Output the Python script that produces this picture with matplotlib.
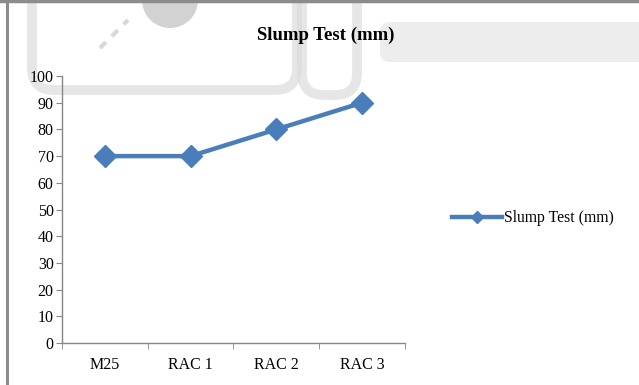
import matplotlib
matplotlib.use("Agg")
import matplotlib.pyplot as plt
from matplotlib.patches import FancyBboxPatch
from matplotlib.lines import Line2D
import numpy as np

categories = ["M25", "RAC 1", "RAC 2", "RAC 3"]
slump_mm = [70, 70, 80, 90]
y_ticks = list(range(0, 101, 10))

LINE_BLUE = "#4A7EBB"
AXIS_GREY = "#868686"

plt.rcParams["font.family"] = ["Liberation Serif", "DejaVu Serif"]

fig = plt.figure(figsize=(6.39, 3.85), dpi=100)
fig.patch.set_facecolor("white")

# faint background shapes behind the chart
bg = fig.add_axes([0, 0, 1, 1], zorder=0)
bg.set_xlim(0, 639)
bg.set_ylim(385, 0)
bg.axis("off")
for (x0, y0, w, h) in [(32, -60, 265, 150), (302, -60, 55, 155)]:
    bg.add_patch(FancyBboxPatch((x0, y0), w, h,
                                boxstyle="round,pad=0,rounding_size=22",
                                fill=False, ec="#dcdcdc", lw=7, alpha=0.7))
bg.add_patch(FancyBboxPatch((380, 22), 300, 40,
                            boxstyle="round,pad=0,rounding_size=10",
                            fc="#e6e6e6", ec="none", alpha=0.7))
bg.add_patch(plt.Circle((170, 0), 28, fc="#d2d2d2", ec="none"))
bg.plot([100, 128], [48, 20], color="#d8d8d8", lw=3, ls=(0, (2, 2)))
# frame edges on the left and top
bg.plot([7, 7], [0, 385], color="#8c8c8c", lw=2.2)
bg.plot([0, 639], [1, 1], color="#8c8c8c", lw=2.5)

ax = fig.add_axes([62 / 639, 1 - 343 / 385, (405 - 62) / 639, (343 - 76) / 385],
                  zorder=1)
ax.patch.set_alpha(0)

x = np.arange(len(categories))
ax.plot(x, slump_mm, color=LINE_BLUE, lw=3.2, marker="D", markersize=11,
        markerfacecolor=LINE_BLUE, markeredgecolor=LINE_BLUE,
        label="Slump Test (mm)", clip_on=False)

ax.set_xlim(-0.5, len(categories) - 0.5)
ax.set_ylim(0, 100)
ax.set_yticks(y_ticks)
ax.set_xticks(x)
ax.set_xticklabels(categories)
ax.set_xticks(np.arange(-0.5, len(categories), 1), minor=True)

for side in ("top", "right"):
    ax.spines[side].set_visible(False)
for side in ("left", "bottom"):
    ax.spines[side].set_color(AXIS_GREY)
    ax.spines[side].set_linewidth(1)

ax.tick_params(axis="y", direction="out", length=4, color=AXIS_GREY,
               labelsize=11.5, pad=2)
ax.tick_params(axis="x", which="major", length=0, labelsize=11.5, pad=10)
ax.tick_params(axis="x", which="minor", direction="out", length=4,
               color=AXIS_GREY)

fig.text(326 / 639, 1 - 35 / 385, "Slump Test (mm)", ha="center", va="center",
         fontsize=13.5, fontweight="bold")

handle = Line2D([], [], color=LINE_BLUE, lw=3.2, marker="D", markersize=6)
fig.legend(handles=[handle], labels=["Slump Test (mm)"], loc="center left",
           bbox_to_anchor=(438 / 639, 1 - 218 / 385), frameon=False,
           fontsize=11.3, handlelength=3.2, handletextpad=0.1)

fig.savefig("out.png", dpi=100)
